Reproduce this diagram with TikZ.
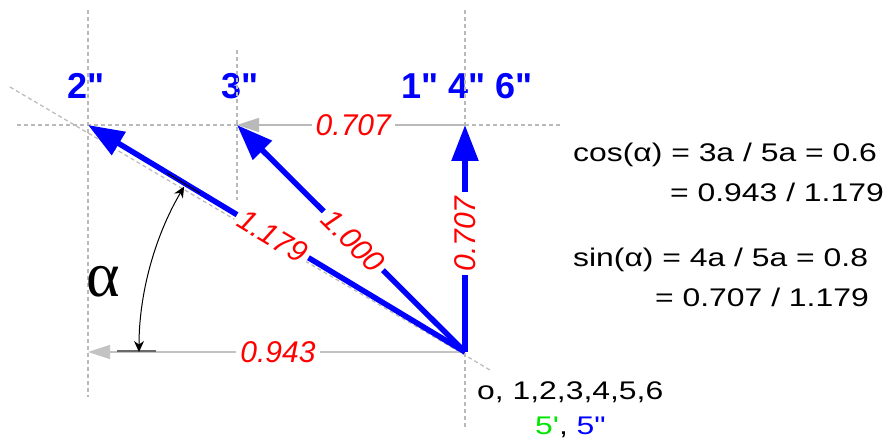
\documentclass[tikz,border=0pt]{standalone}
\usepackage{fontspec}
\setmainfont{Liberation Sans}[Ligatures=TeXOff]
\newfontfamily\widefont{Liberation Sans}[Ligatures=TeXOff,FakeStretch=1.25]
\newfontfamily\alphafont{Liberation Serif}
\usetikzlibrary{arrows.meta}
\definecolor{guidegray}{RGB}{185,185,185}
\definecolor{projgray}{RGB}{195,195,195}
\definecolor{tickgray}{RGB}{105,105,105}
\definecolor{brightgreen}{RGB}{0,230,0}

\begin{document}
\begin{tikzpicture}[x=1pt, y=1pt,
    guide/.style={draw=guidegray, line width=1.2pt, dash pattern=on 4pt off 3pt},
    vec/.style={-{Triangle[length=36pt,width=26pt]}, draw=blue, line width=5.5pt},
    proj/.style={-{Triangle[length=22pt,width=14pt]}, draw=projgray, line width=1.5pt},
    val/.style={font=\fontsize{30}{32}\selectfont\itshape, text=red, fill=white, inner sep=4pt},
    tag/.style={font=\fontsize{36}{40}\selectfont\bfseries, text=blue, anchor=base, inner sep=0pt},
    eq/.style={font=\widefont\fontsize{25.5}{28}\selectfont, anchor=base west, inner sep=0pt},
    angarc/.style={{Stealth[length=11pt,width=10pt]}-{Stealth[length=11pt,width=10pt]}, draw=black, line width=1pt}
]
    \useasboundingbox (0,0) rectangle (890,441);

    % Points
    \coordinate (o) at (465,89);
    \coordinate (p1) at (465,316);
    \coordinate (p2) at (88,316);
    \coordinate (p3) at (237,316);
    \coordinate (q) at (88,89);
    \coordinate (a1) at (139,89);
    \coordinate (t1) at (117,90);
    \coordinate (t2) at (156,90);
    \coordinate (d1) at (167,268);
    \coordinate (d2) at (200,248);

    % Tags
    \node[tag] (tag2) at (86,342) {2"};
    \node[tag] (tag3) at (240,342) {3"};
    \node[tag] (tag146) at (467,342) {1" 4" 6"};

    % Guides
    \draw[guide] (88,431) -- (88,44);
    \draw[guide] (237,391) -- (237,241);
    \draw[guide] (465,431) -- (465,13);
    \draw[guide] (17,316) -- (560,316);
    \draw[guide] (10,354) -- (490,71);

    % Projections
    \draw[proj, dash pattern=on 4pt off 3pt, draw=guidegray] (p1) -- node[val, pos=0.49] (l707h) {0.707} (p3);
    \draw[proj] (o) -- node[val, pos=0.496] (l943) {0.943} (q);

    % Vectors
    \draw[vec] (o) -- node[val, sloped, pos=0.51] (l1179) {1.179} (p2);
    \draw[vec] (o) -- node[val, sloped, pos=0.49] (l1000) {1.000} (p3);
    \draw[vec] (o) -- node[val, sloped, pos=0.52] (l707v) {0.707} (p1);

    % Angle
    \draw[tickgray, line width=2.2pt] (t1) -- (t2);
    \draw[black, line width=1pt] (d1) -- (d2);
    \draw[angarc] (a1) arc[start angle=180, end angle=149.5, radius=326];
    \node[font=\alphafont\fontsize{64}{70}\selectfont, anchor=base, inner sep=0pt] (alpha) at (103,144) {α};

    % Formulas
    \node[eq] (cos1) at (573,279) {cos(α) = 3a / 5a = 0.6};
    \node[eq] (cos2) at (670,239) {= 0.943 / 1.179};
    \node[eq] (sin1) at (573,174) {sin(α) = 4a / 5a = 0.8};
    \node[eq] (sin2) at (655,134) {= 0.707 / 1.179};
    \node[eq] (orig) at (477,41) {o, 1,2,3,4,5,6};
    \node[eq] (five) at (535,6) {\textcolor{brightgreen}{5'}, \textcolor{blue}{5"}};
\end{tikzpicture}
\end{document}
